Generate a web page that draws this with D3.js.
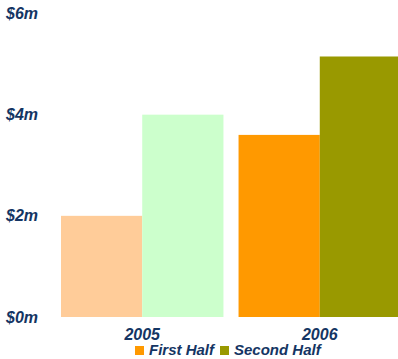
<!DOCTYPE html>
<html>
<head>
<meta charset="utf-8">
<script src="https://cdn.jsdelivr.net/npm/d3@7"></script>
<style>
  body { margin: 0; background: #fff; }
  svg { display: block; }
  text { font-family: "Liberation Sans", Arial, sans-serif; font-weight: bold; font-style: italic; fill: #143563; }
</style>
</head>
<body>
<svg id="chart"></svg>
<script>
// données
const years = ['2005', '2006'];
const series = ['First Half', 'Second Half'];
const firstHalf = [2.0, 3.6];
const secondHalf = [4.0, 5.15];
const yTicks = [0, 2, 4, 6];
const tickLabels = ['$0m', '$2m', '$4m', '$6m'];

// couleurs par année (la 2e année = couleurs de la légende)
const colors = {
    '2005': ['#ffcc99', '#ccffcc'],
    '2006': ['#ff9900', '#999900']
};
const legendColors = ['#ff9900', '#999900'];

const width = 398;
const height = 359;

const svg = d3.select('#chart')
    .attr('width', width)
    .attr('height', height);

const y = d3.scaleLinear()
    .domain([0, 6])
    .range([317, 13.5]);

const x = d3.scaleBand()
    .domain(years)
    .range([61, 401])
    .paddingInner(0.085)
    .paddingOuter(0);

const xs = d3.scaleBand()
    .domain(series)
    .range([0, x.bandwidth()]);

const rows = [];
years.forEach((yr, i) => {
    rows.push({ year: yr, s: series[0], v: firstHalf[i], c: colors[yr][0] });
    rows.push({ year: yr, s: series[1], v: secondHalf[i], c: colors[yr][1] });
});

svg.selectAll('rect.bar')
    .data(rows)
    .enter()
    .append('rect')
    .attr('class', 'bar')
    .attr('x', d => x(d.year) + xs(d.s))
    .attr('y', d => y(d.v))
    .attr('width', xs.bandwidth())
    .attr('height', d => y(0) - y(d.v))
    .style('fill', d => d.c);

// axe y (étiquettes seulement)
svg.selectAll('text.ylab')
    .data(yTicks)
    .enter()
    .append('text')
    .attr('class', 'ylab')
    .attr('x', 6)
    .attr('y', d => y(d))
    .attr('dy', '0.35em')
    .style('font-size', '16px')
    .text((d, i) => tickLabels[i]);

// axe x
svg.selectAll('text.xlab')
    .data(years)
    .enter()
    .append('text')
    .attr('class', 'xlab')
    .attr('x', d => x(d) + x.bandwidth() / 2)
    .attr('y', 340)
    .attr('text-anchor', 'middle')
    .style('font-size', '16px')
    .text(d => d);

// légende
const legendX = [135, 220];
const legend = svg.selectAll('g.leg')
    .data(series)
    .enter()
    .append('g')
    .attr('class', 'leg')
    .attr('transform', (d, i) => `translate(${legendX[i]},346)`);

legend.append('rect')
    .attr('width', 9)
    .attr('height', 9)
    .style('fill', (d, i) => legendColors[i]);

legend.append('text')
    .attr('x', 14)
    .attr('y', 9)
    .style('font-size', '15px')
    .text(d => d);
</script>
</body>
</html>
